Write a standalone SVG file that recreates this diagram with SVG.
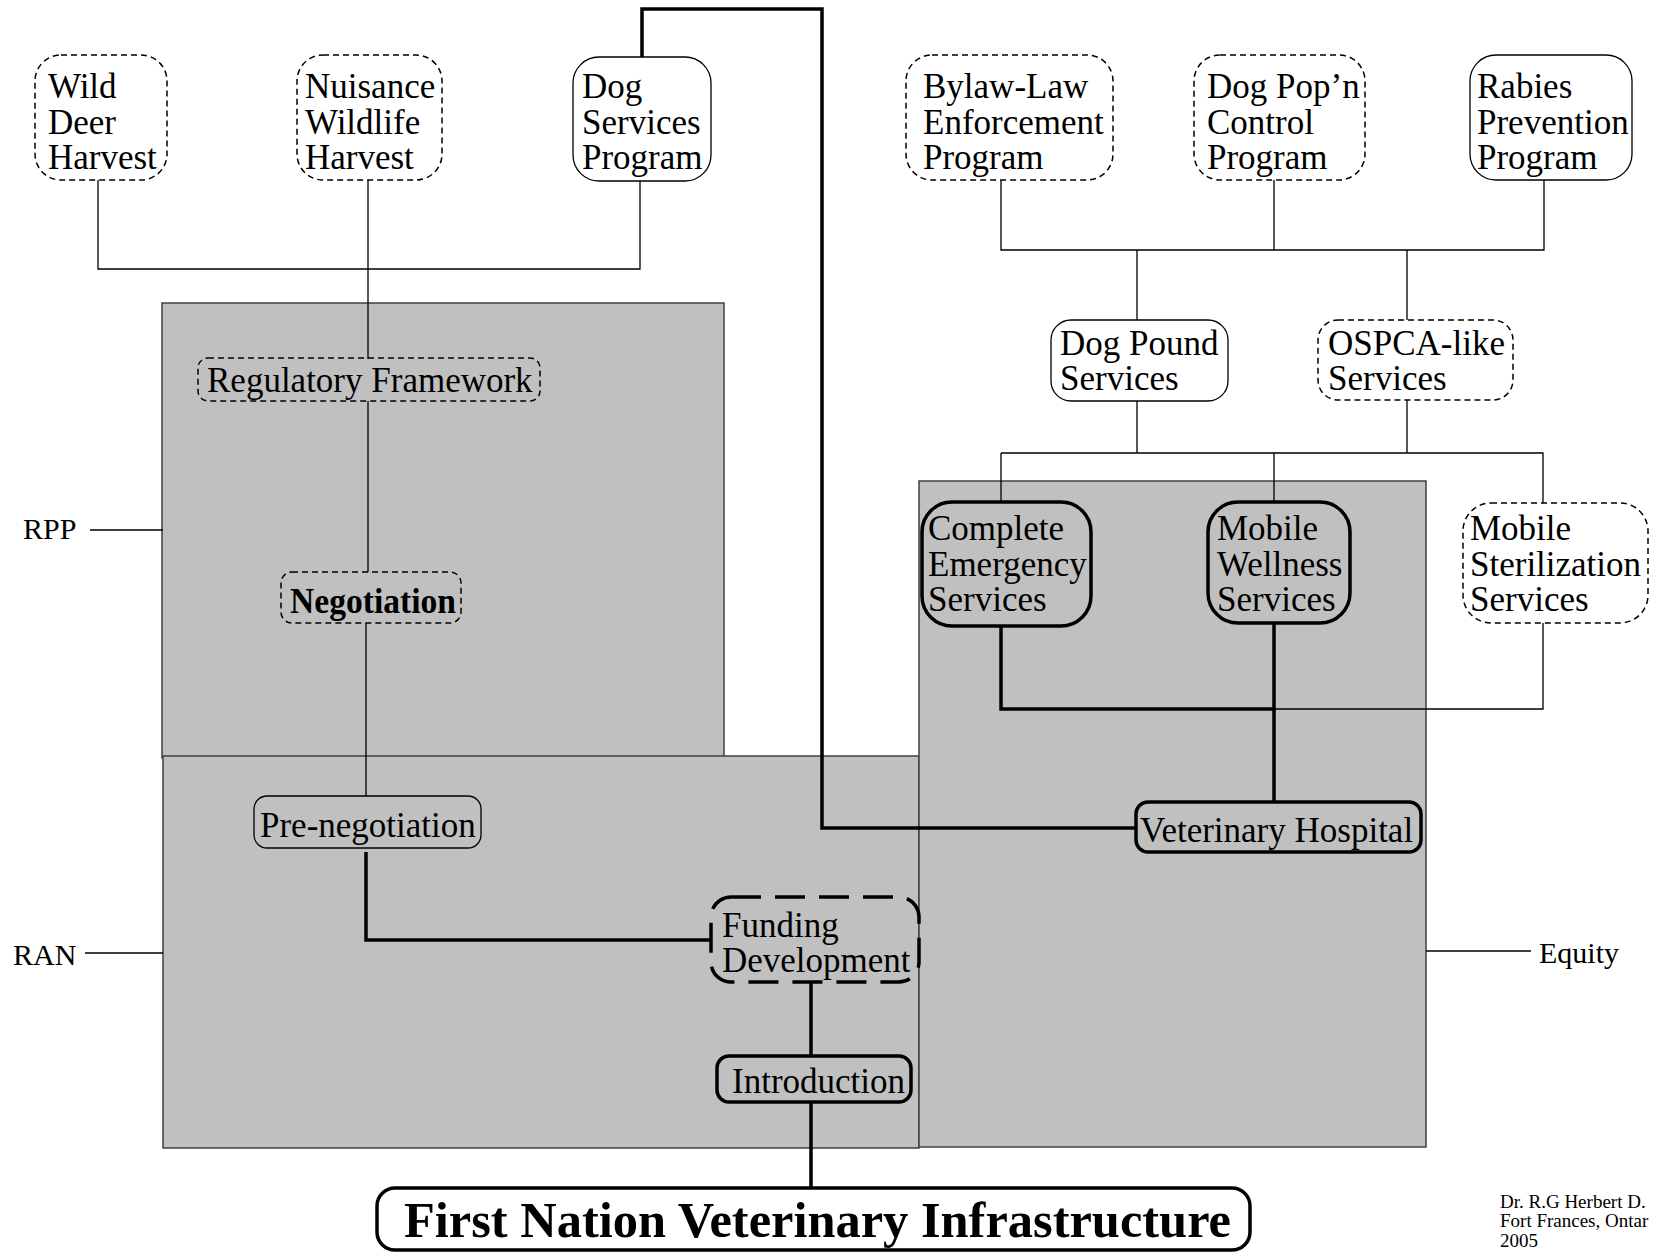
<svg xmlns="http://www.w3.org/2000/svg" width="1654" height="1253" viewBox="0 0 1654 1253">
<style>
text{font-family:"Liberation Serif","Times New Roman",serif;fill:#000}
.t{font-size:35px}
.lbl{font-size:30px}
.foot{font-size:19px}
.zone{fill:#C0C0C0;stroke:#404040;stroke-width:1.5}
.thin{fill:none;stroke:#000;stroke-width:1.3}
.thick{fill:none;stroke:#000;stroke-width:3.5}
.ns{fill:#fff;stroke:#000;stroke-width:1.3}
.nd{fill:#fff;stroke:#000;stroke-width:1.5;stroke-dasharray:6 4}
.gd{fill:none;stroke:#000;stroke-width:1.5;stroke-dasharray:6 4}
.gs{fill:none;stroke:#000;stroke-width:1.3}
.gk{fill:none;stroke:#000;stroke-width:3.5}
.gkd{fill:none;stroke:#000;stroke-width:3.5;stroke-dasharray:30 14}
</style>
<rect width="1654" height="1253" fill="#fff"/>
<g id="zones">
<rect class="zone" x="162" y="303" width="562" height="455"/>
<rect class="zone" x="163" y="756" width="756" height="392"/>
<rect class="zone" x="919" y="481" width="507" height="666"/>
</g>
<g id="connectors">
<path class="thin" d="M98 180V269H640V181M368 180V359"/>
<path class="thin" d="M368 401V572M366 623V796"/>
<path class="thick" d="M366 852V940H711"/>
<path class="thick" d="M811 982V1056M811 1102V1188"/>
<path class="thick" d="M642 57V9H822V828H1136"/>
<path class="thin" d="M1001 180V250H1544V180M1274 180V250M1137 250V320M1407 250V320"/>
<path class="thin" d="M1137 401V453M1407 400V453M1001 453H1543V503M1001 453V502M1274 453V502"/>
<path class="thick" d="M1001 626V709H1274M1274 623V802"/>
<path class="thin" d="M1274 709H1543V623"/>
<path class="thin" d="M90 530H163"/>
<path class="thin" d="M85 953H163" stroke="#555"/>
<path class="thin" d="M1426 951H1531"/>
</g>
<g id="wild-deer">
<rect class="nd" x="35" y="55" width="132" height="125" rx="26"/>
<text class="t" x="48" y="98">Wild</text><text class="t" x="48" y="133.5">Deer</text><text class="t" x="48" y="169">Harvest</text>
</g>
<g id="nuisance">
<rect class="nd" x="297" y="55" width="145" height="125" rx="26"/>
<text class="t" x="305" y="98">Nuisance</text><text class="t" x="305" y="133.5">Wildlife</text><text class="t" x="305" y="169">Harvest</text>
</g>
<g id="dog-services">
<rect class="ns" x="573" y="57" width="138" height="124" rx="26"/>
<text class="t" x="582" y="98">Dog</text><text class="t" x="582" y="133.5">Services</text><text class="t" x="582" y="169">Program</text>
</g>
<g id="bylaw">
<rect class="nd" x="906" y="55" width="207" height="125" rx="26"/>
<text class="t" x="923" y="98">Bylaw-Law</text><text class="t" x="923" y="133.5">Enforcement</text><text class="t" x="923" y="169">Program</text>
</g>
<g id="dog-popn">
<rect class="nd" x="1194" y="55" width="171" height="125" rx="26"/>
<text class="t" x="1207" y="98">Dog Pop’n</text><text class="t" x="1207" y="133.5">Control</text><text class="t" x="1207" y="169">Program</text>
</g>
<g id="rabies">
<rect class="ns" x="1470" y="55" width="162" height="125" rx="26"/>
<text class="t" x="1477" y="98">Rabies</text><text class="t" x="1477" y="133.5">Prevention</text><text class="t" x="1477" y="169">Program</text>
</g>
<g id="dog-pound">
<rect class="ns" x="1051" y="320" width="177" height="81" rx="20"/>
<text class="t" x="1060" y="355">Dog Pound</text><text class="t" x="1060" y="390">Services</text>
</g>
<g id="ospca">
<rect class="nd" x="1318" y="320" width="195" height="80" rx="20"/>
<text class="t" x="1328" y="355">OSPCA-like</text><text class="t" x="1328" y="390">Services</text>
</g>
<g id="regulatory">
<rect class="gd" x="198" y="358" width="342" height="43" rx="10"/>
<text class="t" x="207" y="392">Regulatory Framework</text>
</g>
<g id="negotiation">
<rect class="gd" x="281" y="572" width="180" height="51" rx="11"/>
<text class="t" x="290" y="613" font-size="33" font-weight="bold" textLength="166" lengthAdjust="spacingAndGlyphs">Negotiation</text>
</g>
<g id="pre-negotiation">
<rect class="gs" x="254" y="796" width="227" height="52" rx="13"/>
<text class="t" x="260" y="837">Pre-negotiation</text>
</g>
<g id="funding">
<rect class="gkd" x="711" y="897" width="208" height="85" rx="20"/>
<text class="t" x="722" y="937">Funding</text><text class="t" x="722" y="972">Development</text>
</g>
<g id="introduction">
<rect class="gk" x="717" y="1056" width="194" height="46" rx="12"/>
<text class="t" x="732" y="1093">Introduction</text>
</g>
<g id="complete-emergency">
<rect class="gk" x="922" y="502" width="169" height="124" rx="30"/>
<text class="t" x="928" y="540">Complete</text><text class="t" x="928" y="576">Emergency</text><text class="t" x="928" y="611">Services</text>
</g>
<g id="mobile-wellness">
<rect class="gk" x="1208" y="502" width="142" height="121" rx="30"/>
<text class="t" x="1217" y="540">Mobile</text><text class="t" x="1217" y="576">Wellness</text><text class="t" x="1217" y="611">Services</text>
</g>
<g id="mobile-sterilization">
<rect class="nd" x="1463" y="503" width="185" height="120" rx="28"/>
<text class="t" x="1470" y="540">Mobile</text><text class="t" x="1470" y="576">Sterilization</text><text class="t" x="1470" y="611">Services</text>
</g>
<g id="veterinary-hospital">
<rect class="gk" x="1136" y="802" width="285" height="50" rx="12"/>
<text class="t" x="1140" y="842">Veterinary Hospital</text>
</g>
<g id="first-nation">
<rect x="377" y="1188" width="873" height="62" rx="18" fill="#fff" stroke="#000" stroke-width="3.5"/>
<text x="404" y="1237" font-size="50" font-weight="bold" textLength="827" lengthAdjust="spacingAndGlyphs">First Nation Veterinary Infrastructure</text>
</g>
<g id="labels">
<text class="lbl" x="23" y="539">RPP</text>
<text class="lbl" x="13" y="965">RAN</text>
<text class="lbl" x="1539" y="963">Equity</text>
<text class="foot" x="1500" y="1208">Dr. R.G Herbert D.</text>
<text class="foot" x="1500" y="1227">Fort Frances, Ontar</text>
<text class="foot" x="1500" y="1247">2005</text>
</g>
</svg>
